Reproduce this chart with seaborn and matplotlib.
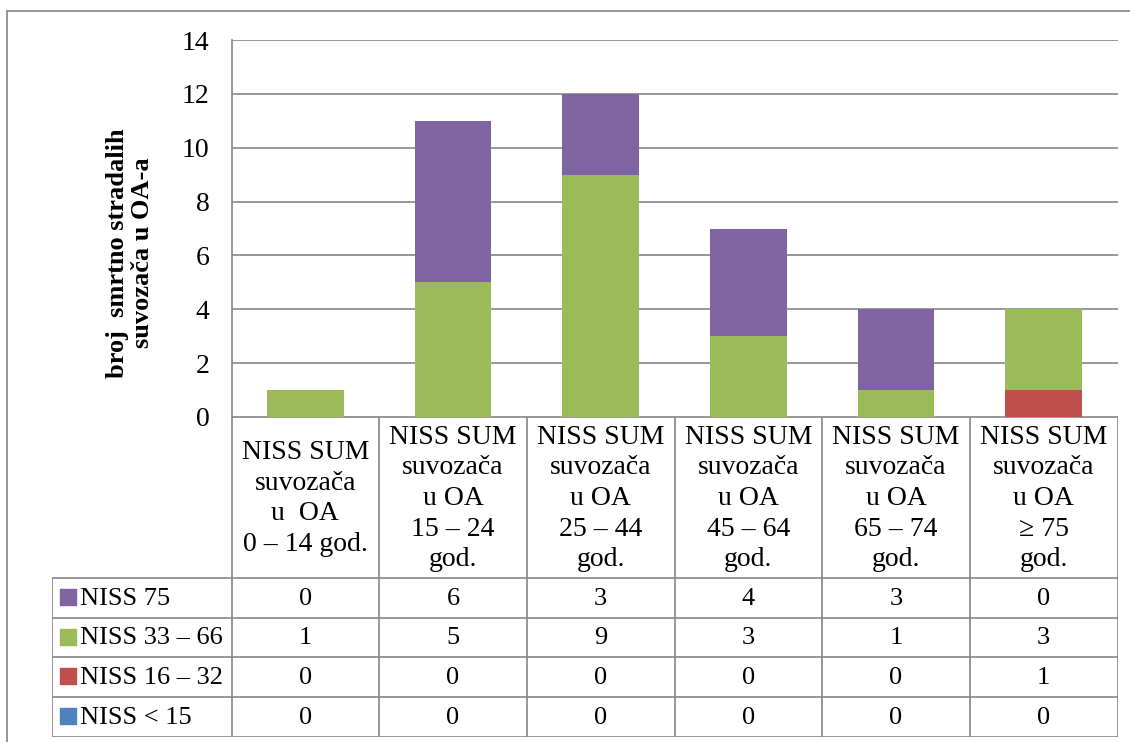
import numpy as np
import pandas as pd
import seaborn as sns
import matplotlib.pyplot as plt

# data
categories = ["0-14", "15-24", "25-44", "45-64", "65-74", ">=75"]
header_labels = [
    "NISS SUM\nsuvozača\nu  OA\n0 – 14 god.",
    "NISS SUM\nsuvozača\nu OA\n15 – 24\ngod.",
    "NISS SUM\nsuvozača\nu OA\n25 – 44\ngod.",
    "NISS SUM\nsuvozača\nu OA\n45 – 64\ngod.",
    "NISS SUM\nsuvozača\nu OA\n65 – 74\ngod.",
    "NISS SUM\nsuvozača\nu OA\n≥ 75\ngod.",
]
niss_75 = [0, 6, 3, 4, 3, 0]
niss_33_66 = [1, 5, 9, 3, 1, 3]
niss_16_32 = [0, 0, 0, 0, 0, 1]
niss_lt15 = [0, 0, 0, 0, 0, 0]
series_names = ["NISS 75", "NISS 33 – 66", "NISS 16 – 32", "NISS < 15"]
colors = ["#8064A2", "#9BBB59", "#C0504D", "#4F81BD"]
y_ticks = [0, 2, 4, 6, 8, 10, 12, 14]

plt.rcParams['font.family'] = ['Liberation Serif', 'DejaVu Serif']

W, H = 1130, 742
fig = plt.figure(figsize=(W / 100, H / 100), dpi=100)
grid_col = "#868686"

# outer frame (only left/top visible in the reference)
fig.add_artist(plt.Line2D([7 / W, 7 / W], [0, 1 - 11 / H], transform=fig.transFigure, color=grid_col, lw=1.2))
fig.add_artist(plt.Line2D([7 / W, 1], [1 - 11 / H, 1 - 11 / H], transform=fig.transFigure, color=grid_col, lw=1.2))

# plot area
x0, x1, ytop, ybot = 231.5, 1117.5, 40, 417
ax = fig.add_axes([x0 / W, 1 - ybot / H, (x1 - x0) / W, (ybot - ytop) / H])

df = pd.DataFrame({"cat": categories, "lt15": niss_lt15, "n16": niss_16_32,
                   "n33": niss_33_66, "n75": niss_75})
# stacked bars: draw cumulative totals from the top layer down
cum = df[["lt15", "n16", "n33", "n75"]].cumsum(axis=1)
layers = [("n75", colors[0]), ("n33", colors[1]), ("n16", colors[2]), ("lt15", colors[3])]
for col, c in layers:
    sns.barplot(x=df["cat"], y=cum[col], color=c, saturation=1, width=0.52, ax=ax, zorder=3)

ax.set_ylim(0, 14)
ax.set_xlim(-0.5, 5.5)
ax.set_yticks(y_ticks)
ax.set_yticklabels([str(t) for t in y_ticks], fontsize=20)
ax.set_xticks([])
ax.set_xlabel("")
ax.set_ylabel("")
ax.tick_params(axis="y", length=0, pad=16)
ax.yaxis.grid(True, color=grid_col, lw=1.2, zorder=0)
ax.set_axisbelow(True)
for s in ["top", "right", "bottom"]:
    ax.spines[s].set_visible(False)
ax.spines["left"].set_color(grid_col)
ax.spines["left"].set_linewidth(1.2)

fig.text(130 / W, 1 - 253 / H, "broj  smrtno stradalih\nsuvozača u OA-a", rotation=90,
         ha="center", va="center", fontsize=19, fontweight="bold", multialignment="center",
         linespacing=1.15)

# data table below the chart
tx0, ty0, ty1 = 51.5, 417, 737
step = (x1 - x0) / 6
tab = fig.add_axes([tx0 / W, 1 - ty1 / H, (x1 - tx0) / W, (ty1 - ty0) / H])
left = -0.5 - (x0 - tx0) / step
tab.set_xlim(left, 5.5)
tab.set_ylim(ty1, ty0)
tab.axis("off")

rows = [417, 578, 618, 657, 697, 737]
tab.hlines(417, -0.5, 5.5, color=grid_col, lw=1.2)
tab.hlines(rows[1:], left, 5.5, color=grid_col, lw=1.2)
tab.vlines(np.arange(7) - 0.5, 417, 737, color=grid_col, lw=1.2)
tab.vlines(left, 578, 737, color=grid_col, lw=1.2)

for i, lab in enumerate(header_labels):
    tab.text(i, (417 + 578) / 2 + 1, lab, ha="center", va="center", fontsize=20, linespacing=1.3)

values = [niss_75, niss_33_66, niss_16_32, niss_lt15]
for r, (name, c, vals) in enumerate(zip(series_names, colors, values)):
    yc = (rows[r + 1] + rows[r + 2]) / 2
    tab.scatter(left + 16.5 / step, yc - 1, marker="s", s=120, color=c, zorder=3)
    tab.text(left + 28 / step, yc + 1, name, ha="left", va="center", fontsize=19)
    for i, v in enumerate(vals):
        tab.text(i, yc + 1, str(v), ha="center", va="center", fontsize=19)

fig.savefig("out.png", dpi=100)
